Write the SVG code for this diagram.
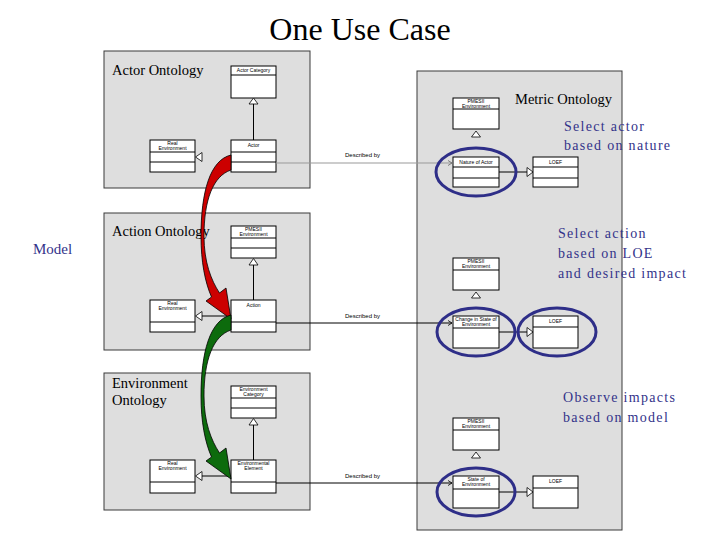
<svg xmlns="http://www.w3.org/2000/svg" width="720" height="540" viewBox="0 0 720 540">
<defs>
<style>
.panel{fill:#dedede;stroke:#3a3a3a;stroke-width:1}
.box{fill:#fff;stroke:#000;stroke-width:1}
.div{stroke:#000;stroke-width:1}
.tiny{font-family:"Liberation Sans",Arial,sans-serif;font-size:5px;fill:#000;text-anchor:middle}
.lbl{font-family:"Liberation Sans",Arial,sans-serif;font-size:6px;fill:#000}
.ttl{font-family:"Liberation Serif","Times New Roman",serif;font-size:14.5px;fill:#000}
.blue{font-family:"Liberation Serif","Times New Roman",serif;font-size:14px;fill:#33338a;letter-spacing:1.3px}
.tri{fill:#fff;stroke:#000;stroke-width:0.8}
.ln{stroke:#000;stroke-width:1;fill:none}
.ell{fill:none;stroke:#2e2e88;stroke-width:3}
</style>
</defs>
<rect width="720" height="540" fill="#fff"/>
<text x="360" y="40" text-anchor="middle" font-family="Liberation Serif,Times New Roman,serif" font-size="32" fill="#000">One Use Case</text>
<text x="33" y="254" font-family="Liberation Serif,Times New Roman,serif" font-size="15" fill="#33338a">Model</text>

<g id="actor-ontology">
<rect class="panel" x="104" y="51" width="206" height="137"/>
<text class="ttl" x="112" y="75">Actor Ontology</text>
<rect class="box" x="231" y="66" width="45" height="32"/><line class="div" x1="231" y1="75" x2="276" y2="75"/>
<text class="tiny" x="253.5" y="72">Actor Category</text>
<line class="ln" x1="253.5" y1="104" x2="253.5" y2="140" stroke="#555"/>
<polygon class="tri" points="253.5,98 249,104 258,104"/>
<rect class="box" x="231" y="140" width="45" height="32"/><line class="div" x1="231" y1="152" x2="276" y2="152"/><line class="div" x1="231" y1="162" x2="276" y2="162"/>
<text class="tiny" x="253.5" y="147">Actor</text>
<rect class="box" x="150" y="140" width="45" height="32"/><line class="div" x1="150" y1="152" x2="195" y2="152"/><line class="div" x1="150" y1="162" x2="195" y2="162"/>
<text class="tiny" x="172.5" y="145">Real</text><text class="tiny" x="172.5" y="150">Environment</text>
<polygon class="tri" points="195.5,157 202,152.5 202,161.5"/>
</g>

<g id="action-ontology">
<rect class="panel" x="104" y="213" width="206" height="137"/>
<text class="ttl" x="112" y="236">Action Ontology</text>
<rect class="box" x="231" y="226" width="45" height="32"/><line class="div" x1="231" y1="238" x2="276" y2="238"/><line class="div" x1="231" y1="248" x2="276" y2="248"/>
<text class="tiny" x="253.5" y="230.5">PMESII</text><text class="tiny" x="253.5" y="235.5">Environment</text>
<line class="ln" x1="253.5" y1="265" x2="253.5" y2="300" stroke="#555"/>
<polygon class="tri" points="253.5,258.5 249,265 258,265"/>
<rect class="box" x="231" y="300" width="45" height="32"/><line class="div" x1="231" y1="322" x2="276" y2="322"/>
<text class="tiny" x="253.5" y="307">Action</text>
<rect class="box" x="150" y="300" width="45" height="32"/><line class="div" x1="150" y1="322" x2="195" y2="322"/>
<text class="tiny" x="172.5" y="305">Real</text><text class="tiny" x="172.5" y="310">Environment</text>
<line class="ln" x1="202" y1="316" x2="231" y2="316"/>
<polygon class="tri" points="195.5,316 202,311.5 202,320.5"/>
</g>

<g id="environment-ontology">
<rect class="panel" x="104" y="373" width="206" height="137"/>
<text class="ttl" x="112" y="388">Environment</text>
<text class="ttl" x="112" y="405">Ontology</text>
<rect class="box" x="231" y="386" width="45" height="32"/><line class="div" x1="231" y1="398" x2="276" y2="398"/><line class="div" x1="231" y1="408" x2="276" y2="408"/>
<text class="tiny" x="253.5" y="390.5">Environment</text><text class="tiny" x="253.5" y="395.5">Category</text>
<line class="ln" x1="253.5" y1="425" x2="253.5" y2="460" stroke="#555"/>
<polygon class="tri" points="253.5,418.5 249,425 258,425"/>
<rect class="box" x="231" y="460" width="45" height="33"/><line class="div" x1="231" y1="482" x2="276" y2="482"/>
<text class="tiny" x="253.5" y="465">Environmental</text><text class="tiny" x="253.5" y="470">Element</text>
<rect class="box" x="150" y="460" width="45" height="33"/><line class="div" x1="150" y1="482" x2="195" y2="482"/>
<text class="tiny" x="172.5" y="465">Real</text><text class="tiny" x="172.5" y="470">Environment</text>
<line class="ln" x1="202" y1="476" x2="231" y2="476"/>
<polygon class="tri" points="195.5,476 202,471.5 202,480.5"/>
</g>

<g id="metric-ontology">
<rect class="panel" x="417" y="71" width="205" height="459"/>
<text class="ttl" x="515" y="104">Metric Ontology</text>
<rect class="box" x="453" y="98" width="46" height="31"/><line class="div" x1="453" y1="109" x2="499" y2="109"/>
<text class="tiny" x="476" y="102.5">PMESII</text><text class="tiny" x="476" y="107.5">Environment</text>
<polygon class="tri" points="476,131 471.5,137 480.5,137"/>
<rect class="box" x="453" y="157" width="46" height="30"/><line class="div" x1="453" y1="167" x2="499" y2="167"/><line class="div" x1="453" y1="178" x2="499" y2="178"/>
<text class="tiny" x="476" y="163.5">Nature of Actor</text>
<line class="ln" x1="499" y1="172" x2="527" y2="172" stroke="#555"/>
<polygon class="tri" points="533,172 527,167.5 527,176.5"/>
<rect class="box" x="533" y="157" width="45" height="30"/><line class="div" x1="533" y1="167" x2="578" y2="167"/><line class="div" x1="533" y1="178" x2="578" y2="178"/>
<text class="tiny" x="555.5" y="163.5">LOEF</text>

<rect class="box" x="453" y="258" width="46" height="32"/><line class="div" x1="453" y1="270" x2="499" y2="270"/>
<text class="tiny" x="476" y="262.5">PMESII</text><text class="tiny" x="476" y="267.5">Environment</text>
<polygon class="tri" points="476,292 471.5,298 480.5,298"/>
<rect class="box" x="453" y="316" width="46" height="32"/><line class="div" x1="453" y1="328" x2="499" y2="328"/>
<text class="tiny" x="476" y="320.5">Change in State of</text><text class="tiny" x="476" y="325.5">Environment</text>
<line class="ln" x1="499" y1="332" x2="527" y2="332"/>
<polygon class="tri" points="533,332 527,327.5 527,336.5"/>
<rect class="box" x="533" y="316" width="45" height="32"/><line class="div" x1="533" y1="327" x2="578" y2="327"/>
<text class="tiny" x="555.5" y="323">LOEF</text>

<rect class="box" x="453" y="418" width="46" height="32"/><line class="div" x1="453" y1="430" x2="499" y2="430"/>
<text class="tiny" x="476" y="422.5">PMESII</text><text class="tiny" x="476" y="427.5">Environment</text>
<polygon class="tri" points="476,452 471.5,458 480.5,458"/>
<rect class="box" x="453" y="476" width="46" height="32"/><line class="div" x1="453" y1="489" x2="499" y2="489"/>
<text class="tiny" x="476" y="480.5">State of</text><text class="tiny" x="476" y="485.5">Environment</text>
<line class="ln" x1="499" y1="492" x2="527" y2="492"/>
<polygon class="tri" points="533,492 527,487.5 527,496.5"/>
<rect class="box" x="533" y="476" width="45" height="32"/><line class="div" x1="533" y1="488" x2="578" y2="488"/>
<text class="tiny" x="555.5" y="483">LOEF</text>
</g>

<g id="notes">
<text class="blue" x="564" y="131">Select actor</text>
<text class="blue" x="564" y="150">based on nature</text>
<text class="blue" x="558" y="238">Select action</text>
<text class="blue" x="558" y="258">based on LOE</text>
<text class="blue" x="558" y="278">and desired impact</text>
<text class="blue" x="563" y="402">Observe impacts</text>
<text class="blue" x="563" y="422">based on model</text>
</g>

<g id="connectors">
<line x1="276" y1="163" x2="452" y2="163" stroke="#999" stroke-width="1"/>
<polyline points="448,160.5 452,163 448,165.5" fill="none" stroke="#666" stroke-width="0.8"/>
<text class="lbl" x="345" y="157">Described by</text>
<line x1="276" y1="323" x2="452" y2="323" stroke="#000" stroke-width="1"/>
<polyline points="448,320.5 452,323 448,325.5" fill="none" stroke="#000" stroke-width="0.8"/>
<text class="lbl" x="345" y="318">Described by</text>
<line x1="276" y1="483" x2="452" y2="483" stroke="#000" stroke-width="1"/>
<polyline points="448,480.5 452,483 448,485.5" fill="none" stroke="#000" stroke-width="0.8"/>
<text class="lbl" x="345" y="478">Described by</text>
<path d="M231,155 C210,160 201,192 201,236 C201,262 205,282 211.5,297 L206,301 L231,319 L226,288 L219.5,293 C211,280 204,262 204,236 C204,200 213,176 231,170 Z" fill="#cc0000" stroke="#000" stroke-width="0.8"/>
<path d="M231,315 C210,320 201,352 201,396 C201,422 205,442 211.5,457 L206,461 L231,479 L226,448 L219.5,453 C211,440 204,422 204,396 C204,360 213,336 231,330 Z" fill="#0d6b0d" stroke="#000" stroke-width="0.8"/>
<ellipse class="ell" cx="476" cy="172" rx="40" ry="24"/>
<ellipse class="ell" cx="476" cy="332" rx="39" ry="24"/>
<ellipse class="ell" cx="557" cy="332" rx="39" ry="24"/>
<ellipse class="ell" cx="476" cy="492" rx="39" ry="24"/>
</g>
</svg>
